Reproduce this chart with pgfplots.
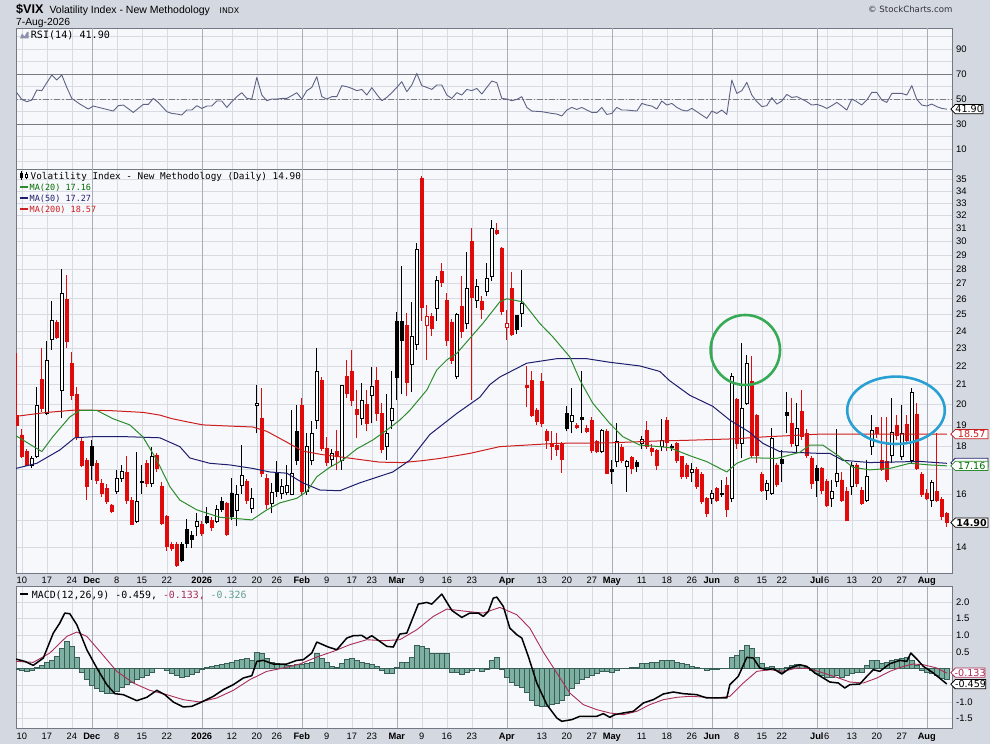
\documentclass[border=0pt]{standalone}
\usepackage{fontspec}
\setmainfont{Liberation Sans}
\newfontfamily\dvs{DejaVu Sans}
\newfontfamily\dvsm{DejaVu Sans Mono}
\usepackage{pgfplots}
\usepackage{pgfplotstable}
\pgfplotsset{compat=1.18}

\definecolor{outerbg}{RGB}{212,216,224}
\definecolor{panelbg}{RGB}{247,248,251}
\definecolor{gridc}{RGB}{216,219,226}
\definecolor{monthc}{RGB}{168,173,183}
\definecolor{axisc}{RGB}{115,120,130}
\definecolor{candlered}{RGB}{225,10,10}
\definecolor{ma20}{RGB}{45,140,45}
\definecolor{ma50}{RGB}{30,30,110}
\definecolor{ma200}{RGB}{205,30,30}
\definecolor{rsic}{RGB}{92,98,132}
\definecolor{sigc}{RGB}{170,45,85}
\definecolor{histf}{RGB}{125,176,160}
\definecolor{histd}{RGB}{55,95,85}
\definecolor{histt}{RGB}{95,160,145}
\definecolor{ovgreen}{RGB}{55,170,85}
\definecolor{ovblue}{RGB}{40,160,210}
\definecolor{lvlc}{RGB}{120,122,132}
\definecolor{ma20t}{RGB}{0,110,0}

\newcommand\lblfont{\fontsize{9.5}{11}\selectfont}
\newcommand\datefont{\fontsize{9.3}{11}\selectfont}

\pgfplotstableread{
i o h l c t
-1 19.47 22.70 18.95 18.99 0
0 18.53 18.80 17.50 17.56 0
1 17.78 17.90 17.15 17.20 0
2 17.20 17.60 17.05 17.48 1
3 17.56 20.90 17.48 19.97 1
4 21.28 22.98 19.60 19.80 0
5 19.55 23.40 19.47 22.29 1
6 23.51 25.83 22.89 24.66 1
7 24.50 24.66 23.50 23.63 0
8 20.72 28.00 19.31 26.36 1
9 25.93 27.60 23.00 23.37 0
10 22.15 22.80 20.20 20.46 0
11 20.50 20.90 18.30 18.45 0
12 18.22 18.40 17.10 17.20 0
13 17.41 17.50 15.76 16.30 0
14 18.00 18.30 16.57 17.20 2
15 17.27 17.40 16.40 16.57 0
16 16.43 16.60 15.90 16.04 0
17 16.23 16.40 15.60 15.70 0
18 15.57 15.60 15.25 15.32 0
19 16.10 17.00 16.00 16.64 1
20 16.64 17.20 16.50 16.92 1
21 16.88 17.60 15.60 15.76 0
22 15.76 15.90 14.80 14.82 0
23 14.94 17.78 14.90 15.72 1
24 16.45 17.20 16.00 16.50 1
25 17.27 17.40 16.30 16.44 0
26 16.44 18.00 16.30 17.57 1
27 17.60 17.70 16.90 17.06 0
28 16.30 16.50 14.80 14.87 0
29 15.13 15.20 13.90 14.03 0
30 14.10 14.20 13.90 13.98 0
31 14.10 14.20 13.35 13.40 0
32 14.10 14.20 13.50 13.58 2
33 14.65 15.05 13.98 14.16 2
34 14.42 14.60 14.00 14.30 2
35 14.76 15.25 14.40 14.94 1
36 14.82 14.95 14.40 14.49 0
37 15.13 15.50 14.85 14.90 2
38 14.97 15.10 14.60 14.73 0
39 14.94 15.57 14.90 15.38 1
40 15.70 15.90 15.30 15.40 2
41 15.63 15.70 14.40 14.46 0
42 16.04 16.64 15.00 15.13 2
43 15.36 16.36 14.76 15.97 1
44 16.33 18.07 16.00 16.75 1
45 16.50 16.60 15.60 15.76 0
46 15.42 16.23 15.25 15.82 1
47 19.92 20.98 18.60 20.05 1
48 19.30 20.80 16.70 16.85 0
49 16.64 16.80 15.40 15.59 0
50 15.63 16.43 15.25 16.07 1
51 16.88 17.38 15.90 16.10 2
52 16.04 16.60 15.80 16.30 1
53 16.07 17.20 15.95 16.33 1
54 16.00 19.72 15.95 16.85 1
55 18.71 19.96 17.20 17.41 2
56 19.92 20.30 15.97 16.10 0
57 16.10 18.60 15.97 18.00 1
58 17.41 19.20 17.20 18.60 1
59 19.23 22.98 18.80 21.70 1
60 21.20 21.40 17.80 17.93 0
61 17.93 18.45 17.15 17.30 0
62 17.44 17.90 17.15 17.70 1
63 17.80 18.76 17.00 17.57 0
64 17.41 21.00 17.00 20.97 1
65 21.42 22.33 20.30 20.56 0
66 21.68 22.89 19.90 20.21 0
67 19.75 20.72 18.40 19.52 0
68 19.31 21.08 19.00 20.21 1
69 20.00 20.72 18.70 19.07 0
70 20.46 21.96 19.07 20.93 1
71 21.20 21.96 19.20 19.55 0
72 19.55 20.05 17.70 17.88 0
73 18.00 20.50 17.41 18.60 1
74 19.23 21.70 18.80 19.80 1
75 24.56 25.18 20.21 21.40 2
76 24.56 28.19 20.50 23.47 2
77 24.35 25.07 20.40 21.13 0
78 22.06 25.80 20.60 23.70 1
79 23.20 29.85 22.90 29.40 1
80 35.06 35.30 24.60 25.45 0
81 24.36 25.60 22.30 24.86 3
82 24.86 25.10 23.70 24.16 0
83 25.40 27.50 24.60 27.24 1
84 27.80 28.40 26.80 27.10 0
85 25.87 26.36 23.10 23.43 0
86 24.52 24.70 22.10 22.33 0
87 21.42 25.10 21.30 25.00 1
88 25.50 27.50 23.60 23.96 0
89 24.44 29.20 24.10 26.69 1
90 30.00 30.98 20.20 26.10 0
91 25.87 27.30 25.40 26.84 1
92 25.80 26.20 24.70 25.30 0
93 26.47 28.40 26.20 27.36 1
94 27.50 31.63 27.20 31.00 1
95 30.80 31.40 30.50 30.60 0
96 29.50 29.60 25.00 25.20 0
97 24.20 25.29 23.47 24.46 3
98 26.69 27.80 23.70 23.80 0
99 24.92 25.00 23.80 24.10 2
100 25.05 27.90 24.26 25.70 1
101 20.98 22.00 19.85 20.87 0
102 21.20 21.70 19.40 19.47 0
103 19.72 19.80 19.00 19.15 0
104 21.16 21.60 18.90 19.07 0
105 18.71 18.80 17.90 18.30 0
106 18.10 18.70 17.40 18.00 0
107 18.07 18.60 17.60 17.88 0
108 18.15 18.20 16.85 17.44 0
109 19.55 19.90 18.70 18.84 2
110 19.15 20.80 18.60 19.47 1
111 18.99 19.10 18.80 18.88 0
112 19.36 21.70 18.60 19.26 2
113 18.84 19.00 18.60 18.68 0
114 19.20 19.40 17.70 17.85 0
115 18.22 18.30 17.70 17.78 0
116 17.78 18.80 17.70 18.76 1
117 18.68 18.80 16.80 16.85 0
118 16.99 17.41 16.40 16.92 2
119 17.34 19.07 17.10 18.22 1
120 17.96 18.10 17.30 17.41 0
121 17.13 17.40 16.10 17.34 1
122 17.52 17.60 16.80 17.06 0
123 17.30 17.40 16.90 17.13 2
124 18.14 18.50 17.90 18.33 1
125 18.76 19.20 17.90 18.00 0
126 17.93 18.10 17.60 17.78 0
127 17.85 17.90 17.00 17.20 0
128 18.00 19.30 17.80 18.30 1
129 19.20 19.40 17.80 18.20 0
130 18.03 18.10 17.80 17.97 2
131 18.15 18.20 17.30 17.41 0
132 17.55 17.60 16.60 16.71 0
133 17.20 17.30 16.60 16.71 0
134 16.89 17.30 16.50 16.99 1
135 16.99 17.10 16.20 16.30 0
136 16.78 16.90 15.60 15.70 0
137 15.82 15.90 15.10 15.25 0
138 15.82 16.16 15.60 16.04 1
139 16.23 16.30 15.70 15.74 0
140 15.97 16.57 15.90 16.04 1
141 16.33 16.70 15.10 15.38 0
142 15.82 21.60 15.70 21.43 1
143 20.23 20.30 17.90 18.15 0
144 18.15 23.30 17.48 19.80 1
145 20.05 22.60 19.97 22.15 1
146 21.16 22.55 17.50 17.63 0
147 19.47 19.50 17.30 17.63 0
148 16.81 16.90 16.10 16.16 0
149 16.16 16.57 15.76 16.43 1
150 16.04 18.84 15.97 18.38 1
151 17.20 17.30 16.30 16.37 0
152 17.44 17.85 16.50 17.27 2
153 19.60 20.60 18.60 19.47 2
154 19.07 20.30 18.00 18.15 0
155 18.07 20.05 17.70 18.84 1
156 19.63 20.70 18.30 18.45 0
157 18.60 18.80 17.50 17.63 0
158 17.48 17.60 16.20 16.44 0
159 17.06 17.20 15.90 16.57 2
160 17.06 17.10 16.00 16.16 0
161 16.50 16.60 15.50 15.57 0
162 15.82 16.57 15.50 16.10 1
163 16.50 18.80 16.30 16.85 1
164 16.57 16.90 15.70 15.76 0
165 16.10 16.30 14.95 15.00 0
166 16.30 17.34 15.97 17.16 1
167 17.20 17.30 16.30 16.44 0
168 16.16 16.30 15.57 15.63 0
169 15.76 17.41 15.70 16.71 1
170 18.00 19.47 17.63 18.73 1
171 18.87 18.90 18.40 18.60 0
172 17.41 19.40 16.95 17.02 0
173 17.34 19.40 16.50 16.60 0
174 17.63 20.30 17.27 18.64 1
175 18.96 19.47 18.30 18.50 0
176 17.55 19.96 17.41 18.60 1
177 19.02 19.47 18.10 18.30 0
178 17.41 20.80 17.30 20.58 1
179 19.50 20.05 17.00 17.06 0
180 16.78 16.90 15.90 15.97 0
181 16.04 16.20 15.76 15.82 0
182 15.76 16.57 15.50 16.46 1
183 16.10 18.60 15.70 15.76 0
184 15.79 15.90 15.00 15.13 0
185 15.25 15.30 14.75 14.90 0
}\candles

\pgfplotstableread{
i h
-1 -0.03
0 -0.05
1 -0.08
2 -0.06
3 0.03
4 0.10
5 0.18
6 0.25
7 0.38
8 0.60
9 0.82
10 0.68
11 0.35
12 -0.10
13 -0.33
14 -0.50
15 -0.60
16 -0.68
17 -0.74
18 -0.73
19 -0.67
20 -0.57
21 -0.47
22 -0.40
23 -0.33
24 -0.27
25 -0.20
26 -0.10
27 0.02
28 0.02
29 -0.05
30 -0.13
31 -0.20
32 -0.25
33 -0.24
34 -0.18
35 -0.10
36 -0.03
37 0.03
38 0.07
39 0.10
40 0.14
41 0.17
42 0.20
43 0.24
44 0.28
45 0.30
46 0.26
47 0.50
48 0.45
49 0.30
50 0.20
51 0.15
52 0.12
53 0.10
54 0.10
55 0.12
56 0.12
57 0.15
58 0.20
59 0.45
60 0.30
61 0.18
62 0.08
63 0.05
64 0.15
65 0.27
66 0.30
67 0.25
68 0.20
69 0.15
70 0.12
71 0.06
72 -0.05
73 -0.15
74 -0.13
75 0.05
76 0.20
77 0.20
78 0.35
79 0.70
80 0.68
81 0.60
82 0.45
83 0.47
84 0.47
85 0.45
86 -0.10
87 -0.10
88 -0.18
89 -0.10
90 -0.05
91 0.00
92 -0.08
93 -0.02
94 0.25
95 0.35
96 -0.03
97 -0.25
98 -0.40
99 -0.50
100 -0.55
101 -0.70
102 -0.95
103 -1.10
104 -1.12
105 -1.12
106 -1.08
107 -1.03
108 -0.95
109 -0.80
110 -0.60
111 -0.45
112 -0.33
113 -0.25
114 -0.20
115 -0.15
116 -0.08
117 -0.08
118 -0.12
119 -0.05
120 0.00
121 0.02
122 0.03
123 0.05
124 0.15
125 0.17
126 0.20
127 0.20
128 0.25
129 0.25
130 0.25
131 0.20
132 0.15
133 0.12
134 0.08
135 0.05
136 0.02
137 -0.05
138 -0.02
139 -0.02
140 0.00
141 0.00
142 0.35
143 0.40
144 0.55
145 0.70
146 0.60
147 0.35
148 0.15
149 0.05
150 0.08
151 -0.05
152 -0.10
153 0.05
154 0.10
155 0.12
156 0.10
157 0.05
158 -0.05
159 -0.15
160 -0.20
161 -0.25
162 -0.25
163 -0.20
164 -0.25
165 -0.20
166 -0.15
167 -0.10
168 -0.10
169 0.10
170 0.25
171 0.25
172 0.15
173 0.20
174 0.25
175 0.27
176 0.30
177 0.35
178 0.25
179 0.10
180 -0.05
181 -0.12
182 -0.15
183 -0.20
184 -0.30
185 -0.33
}\histo

\pgfplotsset{
  vixaxis/.style={
    scale only axis, width=936.7pt,
    xmin=-1.16, xmax=186.18,
    axis background/.style={fill=panelbg},
    axis line style={draw=axisc, line width=0.6pt},
    xtick={0,5,10,14,19,24,29,36,42,47,51,56,61,66,70,75,80,85,90,97,104,109,114,118,124,129,134,138,143,148,152,159,161,166,171,176,181},
    xmajorgrids, ymajorgrids,
    major grid style={draw=gridc, line width=0.5pt},
    extra x ticks={14,36,56,75,97,118,138,159,181},
    extra x tick labels={},
    extra x tick style={grid=major, major grid style={draw=monthc, line width=0.6pt}},
    major tick length=0pt, minor tick length=0pt,
    ytick pos=right, yticklabel pos=right,
    yticklabel style={font=\lblfont, inner sep=0pt, xshift=3.3pt, anchor=west},
    xticklabel style={font=\datefont, inner sep=0pt},
    clip=true,
  },
  datelabels/.style={
    xticklabels={10,17,24,\textbf{Dec},8,15,22,\textbf{2026},12,20,26,\textbf{Feb},9,17,23,\textbf{Mar},9,16,23,\textbf{Apr},13,20,27,\textbf{May},11,18,26,\textbf{Jun},8,15,22,\textbf{Jul},6,13,20,27,\textbf{Aug}}
  },
}

\newcommand\valboxshape[3]{%
  \filldraw[fill=white, draw=#3, line width=0.8pt, line join=miter] (950.8,#1) -- (955.3,#1+4.6) -- (#2,#1+4.6) -- (#2,#1-4.6) -- (955.3,#1-4.6) -- cycle;%
}
\newcommand\valbox[5]{%
  \valboxshape{#1}{#2}{#3}%
  \node[inner sep=0pt, text=#4, font=\dvs\fontsize{9.6}{11}\selectfont] at ({(955.3+#2)/2},#1) {#5};%
}

\begin{document}
\begin{tikzpicture}[x=1pt,y=1pt]
\path[use as bounding box] (0,0) rectangle (990,744);
\fill[outerbg] (0,0) rectangle (990,744);

% ---------------- RSI panel ----------------
\begin{axis}[vixaxis, at={(16pt,715.7pt)}, anchor=north west, height=141pt,
  ymin=-6.2, ymax=106.6,
  ytick={10,30,50,70,90}, yticklabels={10,30,50,70,90},
  minor ytick={0,20,40,60,80,100}, yminorgrids,
  minor grid style={draw=gridc, line width=0.5pt},
  xticklabels={}]
\addplot[lvlc, line width=0.8pt, forget plot] coordinates {(-5,70) (200,70)};
\addplot[lvlc, line width=0.8pt, forget plot] coordinates {(-5,30) (200,30)};
\addplot[lvlc, line width=0.7pt, dash pattern=on 6pt off 2pt on 1.5pt off 2pt, forget plot] coordinates {(-5,50) (200,50)};
\addplot[rsic, line width=0.9pt, line join=round] coordinates {
(-1,55.1) (0,49.7) (1,47.9) (2,49.2) (3,57.2) (4,56.7) (5,63.1) (6,69.2) (7,65.2) (8,69.2) (9,59.3) (10,50.5) (11.6,46) (13.3,42) (14.3,44.4) (15.6,43.1) (18.3,40.4) (19.3,44.7) (20.3,45.2) (22.3,39.3) (24.3,45.7) (25.3,45.7) (26.3,50.5) (27.3,47.3) (29,39.9) (30,38.5) (31,38.0) (32,37.2) (33,41.2) (34,41.2) (35,44.7) (36,42.5) (37,44.4) (38,44.4) (39,48.4) (40,48.4) (41,43.3) (42,47.9) (43,51.9) (44,55.1) (45,50.5) (46,50.0) (47,67.3) (48,53.2) (49,48.7) (50,50) (51,50) (52,50.5) (53,50.5) (54,52.7) (55,55.1) (56,50) (57,56.7) (58,59.3) (59,67.9) (60,51.9) (61,50) (62,51.9) (63,51.9) (64,60.7) (65,59.9) (66,58.5) (67,56.7) (68,57.7) (69,53.2) (70,59.1) (71,53.7) (72,48.7) (73,51.3) (74,55.1) (75,59.3) (76,63.9) (77,55.9) (78,61.2) (79,70.5) (80,60.7) (81,59.3) (82,57.7) (83,61.2) (84,61.2) (85,53.2) (86,50.5) (87,55.1) (88,53.2) (89,57.7) (90,56.7) (91,58.5) (92,54) (93,59.3) (94,64.4) (95,63.1) (96,50.5) (97,50) (98,48.7) (99,49.7) (100,51.9) (101,43.3) (102,40.4) (104,39.9) (106,38.5) (107,38) (108,36.4) (109,41.2) (110,43.3) (111,41.7) (112,43.3) (113,41.2) (114,39.3) (115,39.3) (116,43.3) (117,37.7) (118,38.5) (119,43.3) (120,41.2) (121,41.2) (123,40.4) (124,46.5) (125,45.2) (126,44.4) (127,42) (128,48.4) (129,45.2) (130,46.5) (131,43.3) (132,41.2) (133,40.4) (134,42.5) (135,39.9) (136,37.2) (137,34.5) (138,40.4) (139,38.5) (140,41.2) (141,37.7) (142,65.2) (143,54.5) (144,56.7) (145,63.3) (146,53.2) (147,47.9) (148,43.9) (149,44.7) (150,51.1) (151,46) (152,48.4) (153,53.7) (154,51.3) (155,51.9) (156,50) (157,47.9) (158,45.2) (159,45.7) (160,44.4) (161,42.5) (162,44.7) (163,47.3) (164,44.4) (165,41.2) (166,50) (167,47.9) (168,45.2) (169,49.2) (170,55.3) (171,55.3) (172,49.2) (173,47.3) (174,54.5) (175,54.5) (176,54.5) (177,53.2) (178,60.7) (179,49.7) (180,45.2) (181,44.4) (182,46) (183,43.9) (184,42.5) (185,41.9)};
\end{axis}

% ---------------- Price panel ----------------
\begin{axis}[vixaxis, at={(16pt,574.7pt)}, anchor=north west, height=404pt,
  ymode=log, ymin=13.136, ymax=35.88,
  ytick={14,15,16,17,18,19,20,21,22,23,24,25,26,27,28,29,30,31,32,33,34,35},
  yticklabels={14,,16,,18,19,20,21,22,23,24,25,26,27,28,29,30,31,32,33,34,35},
  datelabels,
  xticklabel style={anchor=base, yshift=-10.7pt}]
\pgfplotsinvokeforeach{0,...,186}{%
  \pgfplotstablegetelem{#1}{i}\of\candles \let\vxi\pgfplotsretval
  \pgfplotstablegetelem{#1}{o}\of\candles \let\vxo\pgfplotsretval
  \pgfplotstablegetelem{#1}{h}\of\candles \let\vxh\pgfplotsretval
  \pgfplotstablegetelem{#1}{l}\of\candles \let\vxl\pgfplotsretval
  \pgfplotstablegetelem{#1}{c}\of\candles \let\vxc\pgfplotsretval
  \pgfplotstablegetelem{#1}{t}\of\candles \let\vxt\pgfplotsretval
  \pgfmathsetmacro\vxa{\vxi-0.33}%
  \pgfmathsetmacro\vxb{\vxi+0.33}%
  \edef\vxwc{\ifcase\vxt\space candlered\or black\or black\or candlered\fi}%
  \edef\vxfc{\ifcase\vxt\space candlered\or white\or black\or white\fi}%
  \edef\vxdoit{%
    \noexpand\addplot[draw=\vxwc, line width=0.9pt, forget plot] coordinates {(\vxi,\vxl) (\vxi,\vxh)};
    \noexpand\addplot[draw=\vxwc, fill=\vxfc, line width=0.8pt, forget plot] coordinates {(\vxa,\vxo) (\vxb,\vxo) (\vxb,\vxc) (\vxa,\vxc) (\vxa,\vxo)};
  }\vxdoit
}
\addplot[ma200, line width=1pt, line join=round] coordinates {
(-1.2,19.41) (5,19.6) (11,19.72) (17.6,19.69) (24.3,19.6) (27.6,19.47) (30,19.3) (33,19.15) (36.2,19.0) (41,18.95) (46.2,18.9) (49,18.7) (51,18.45) (53,18.2) (56.2,17.8) (60,17.65) (63.6,17.55) (67,17.45) (71.6,17.32) (76.2,17.3) (80,17.38) (83.6,17.48) (89.6,17.7) (95.6,18.0) (100.2,18.06) (107,18.15) (117.6,18.17) (127.6,18.26) (132.2,18.28) (142.2,18.35) (149,18.45) (153.6,18.5) (159.6,18.57) (170,18.57) (185,18.57)};
\addplot[ma50, line width=1pt, line join=round] coordinates {
(-1.2,17.05) (3,17.27) (7.6,17.85) (10.6,18.4) (14.2,18.45) (21,18.45) (27.6,18.4) (29.6,18.2) (31.6,18.0) (33.6,17.5) (37.6,17.27) (41.6,17.2) (46.2,17.05) (49.6,16.9) (53,16.85) (56.2,16.45) (59.6,16.16) (63.6,16.13) (67.6,16.45) (74.2,16.9) (77.6,17.4) (81.6,18.55) (87,19.55) (91.6,20.35) (93.6,21.0) (95.6,21.4) (101,22.15) (107,22.4) (113,22.4) (117.6,22.2) (123.6,22.0) (125.6,21.85) (127.6,21.7) (129.6,21.2) (133.6,20.45) (138.2,19.9) (141.6,19.23) (145.6,18.65) (148.2,18.15) (151.6,17.78) (154.2,17.75) (159.6,17.7) (161.6,17.7) (164.2,17.4) (169.6,17.3) (179.6,17.35) (185,17.27)};
\addplot[ma20, line width=1pt, line join=round] coordinates {
(-1.2,18.5) (4,17.78) (6.2,18.45) (9.6,19.38) (11.6,19.7) (15,19.7) (18.2,19.3) (21.6,19.0) (24.2,18.45) (27,17.41) (29.6,16.3) (31.6,15.76) (35,15.38) (39.6,15.1) (43,15.05) (46,15.0) (49,15.38) (51.6,15.65) (55,15.83) (57,16.1) (59,16.7) (61.6,17.1) (64.2,17.41) (67,17.9) (70.2,18.3) (73,18.76) (75.6,19.23) (77.6,19.7) (81,20.72) (83,21.78) (85,22.33) (87,22.7) (89.6,23.56) (92.2,24.45) (95.6,25.8) (97,26.0) (100.2,25.8) (103.6,24.45) (106.2,23.65) (109.6,22.5) (111.6,21.25) (114.2,20.05) (117.6,19.07) (120.2,18.45) (123.6,18.07) (127.6,18.0) (129.6,17.95) (133.6,17.6) (137,17.34) (141,16.9) (143,17.27) (145.6,17.5) (147.6,17.5) (151,17.48) (155.6,17.75) (157.6,18.07) (160.2,18.07) (163.6,17.55) (166.2,17.1) (169.6,16.99) (173.6,17.05) (177.6,17.27) (181.6,17.2) (185,17.16)};
\end{axis}

% ---------------- MACD panel ----------------
\begin{axis}[vixaxis, at={(16pt,157.3pt)}, anchor=north west, height=141.6pt,
  ymin=-1.79, ymax=2.462,
  ytick={-1.5,-1,-0.5,0,0.5,1,1.5,2},
  yticklabels={-1.5,-1.0,,,0.5,1.0,1.5,2.0},
  datelabels,
  xticklabel style={anchor=base, yshift=-11pt}]
\addplot[ybar, bar width=1, bar shift=0pt, fill=histf, draw=histd, line width=0.5pt, forget plot] table[x=i, y=h] {\histo};
\addplot[sigc, line width=0.9pt, line join=round] coordinates {
(-1.2,0.22) (2.3,0.19) (5.6,0.47) (9,0.97) (11,1.1) (13,0.97) (15.6,0.52) (19,-0.08) (22.3,-0.43) (25.6,-0.65) (29,-0.78) (32.3,-0.93) (35.6,-1.0) (39,-0.88) (42.3,-0.65) (45.6,-0.33) (49,-0.08) (52.3,0.02) (55.6,0.14) (59,0.35) (62.3,0.52) (65.6,0.72) (69,0.87) (72.3,0.84) (75.6,0.87) (79,1.17) (82.3,1.57) (85,1.79) (89,1.72) (92.3,1.67) (95.6,1.84) (99,1.62) (101.6,1.22) (104.3,0.5) (107,-0.13) (109.6,-0.73) (112.3,-1.08) (115,-1.23) (117.6,-1.33) (120.3,-1.38) (123,-1.28) (125.6,-1.08) (128.3,-0.93) (131,-0.86) (133.6,-0.83) (136.3,-0.85) (139,-0.88) (141.6,-0.83) (144.3,-0.43) (147,-0.08) (149.6,-0.03) (152.3,-0.08) (155,0.02) (157.6,0.0) (160.3,-0.13) (163,-0.26) (165.6,-0.4) (168.3,-0.43) (171,-0.28) (173.6,-0.08) (176.3,0.07) (178.3,0.14) (180.3,0.12) (183,0.02) (185,-0.133)};
\addplot[black, line width=1.5pt, line join=round] coordinates {
(-1.2,0.29) (0.6,0.22) (2.3,0.10) (4.3,0.32) (6.3,1.07) (7.6,1.37) (8.6,1.67) (9.6,1.65) (11,1.32) (13,0.57) (15,0.02) (17,-0.48) (18.6,-0.75) (20.3,-0.78) (23,-0.96) (25,-0.86) (27,-0.65) (28.6,-0.78) (30.3,-1.0) (32.3,-1.15) (34,-1.13) (36,-1.0) (38.3,-0.83) (40.3,-0.63) (42.3,-0.48) (44.3,-0.28) (46,-0.21) (47,0.22) (48.3,0.25) (50.3,0.14) (53,0.14) (55,0.25) (56.3,0.27) (58,0.47) (59,0.8) (61.3,0.65) (63,0.57) (65,0.92) (66.3,0.99) (68,1.0) (69,0.9) (70,0.99) (71.6,0.82) (73,0.67) (74.3,0.65) (75.6,1.04) (77,1.07) (79.3,1.94) (81,1.99) (82,1.94) (84,2.24) (86,1.75) (88,1.54) (89.6,1.67) (91.3,1.67) (92.3,1.57) (93.3,1.72) (94.3,2.12) (95,2.15) (96.3,1.87) (97.6,1.22) (99,1.02) (100,0.92) (101.3,0.37) (103,-0.43) (105,-1.08) (107,-1.48) (108,-1.58) (110,-1.53) (111.6,-1.43) (113.6,-1.43) (115,-1.43) (116.3,-1.35) (117.6,-1.46) (118.6,-1.38) (120.3,-1.33) (122.3,-1.28) (124.3,-1.03) (126.3,-0.93) (128.3,-0.76) (130.3,-0.7) (132.3,-0.75) (135,-0.78) (137,-0.88) (139,-0.88) (141,-0.88) (141.6,-0.48) (143.3,-0.23) (145,0.34) (146.3,0.32) (147.6,0.02) (149,-0.03) (150.3,0.0) (152,-0.16) (153.6,0.02) (155.6,0.12) (157,0.07) (158.6,-0.13) (160.3,-0.28) (161.6,-0.4) (163.3,-0.43) (164.6,-0.58) (165.6,-0.48) (167.6,-0.46) (169,-0.23) (170.3,-0.03) (171.6,-0.08) (173.6,0.15) (175.6,0.25) (177,0.22) (177.8,0.47) (179,0.29) (180.3,0.07) (182.3,-0.13) (185,-0.459)};
\end{axis}

% ---------------- annotation ellipses ----------------
\draw[ovgreen, line width=2.6pt] (745.3,394) ellipse [x radius=34.7, y radius=35];
\draw[ovblue, line width=2.6pt] (896,333.7) ellipse [x radius=48.8, y radius=33.7];

% ---------------- header texts ----------------
\node[anchor=base west, inner sep=0pt, font=\fontsize{12.6}{14}\selectfont\bfseries] at (16,730) {\$VIX};
\node[anchor=base west, inner sep=0pt, font=\fontsize{10.5}{12}\selectfont] at (49.3,730) {Volatility Index - New Methodology};
\node[anchor=base west, inner sep=0pt, font=\dvs\fontsize{7.8}{9}\selectfont] at (219.5,730) {INDX};
\node[anchor=base west, inner sep=0pt, font=\fontsize{10.3}{12}\selectfont] at (16,718) {7-Aug-2026};
\node[anchor=base east, inner sep=0pt, font=\dvs\fontsize{8.6}{10}\selectfont, text={rgb,255:red,50;green,50;blue,55}] at (952.7,731.3) {© StockCharts.com};

% ---------------- panel legends ----------------
\fill[rsic!70] (20,705.5) -- (22,710.5) -- (24.5,707.5) -- (27,712) -- (28.5,712) -- (28.5,705.5) -- cycle;
\node[anchor=base west, inner sep=0pt, font=\dvsm\fontsize{10.1}{12}\selectfont] at (30.7,705) {RSI(14) 41.90};

\draw[black, line width=0.7pt] (21.5,564) -- (21.5,572.5) (26.5,565) -- (26.5,571.5);
\fill[black] (20.3,566) rectangle (22.7,570.5);
\filldraw[fill=white, draw=black, line width=0.5pt] (25.3,566.5) rectangle (27.7,570);
\node[anchor=base west, inner sep=0pt, font=\dvsm\fontsize{9.35}{11}\selectfont] at (30.5,564.2) {Volatility Index - New Methodology (Daily) 14.90};
\draw[ma20, line width=2pt] (20,556.7) -- (28,556.7);
\node[anchor=base west, inner sep=0pt, font=\dvsm\fontsize{8.5}{10}\selectfont, text=ma20t] at (29.5,553.6) {MA(20) 17.16};
\draw[ma50, line width=2pt] (20,545.7) -- (28,545.7);
\node[anchor=base west, inner sep=0pt, font=\dvsm\fontsize{8.5}{10}\selectfont, text=ma50] at (29.5,542.6) {MA(50) 17.27};
\draw[ma200, line width=2pt] (20,534.7) -- (28,534.7);
\node[anchor=base west, inner sep=0pt, font=\dvsm\fontsize{8.5}{10}\selectfont, text=ma200] at (29.5,531.6) {MA(200) 18.57};

\draw[black, line width=2pt] (20,150) -- (28.3,150);
\node[anchor=base west, inner sep=0pt, font=\dvsm\fontsize{9.9}{12}\selectfont] at (31.7,145.9) {MACD(12,26,9) -0.459, \textcolor{sigc}{-0.133,} \textcolor{histt}{-0.326}};

% ---------------- value boxes ----------------
\valbox{634.9}{983}{black}{black}{41.90}
\valbox{309.9}{988}{ma200}{ma200}{18.57}
\valboxshape{281.2}{988}{ma50}
\valbox{278.1}{988}{ma20}{ma20t}{17.16}
\valbox{221.4}{988}{black}{black}{\bfseries 14.90}
\valbox{71.3}{985}{sigc}{sigc}{-0.133}
\valbox{59.8}{985.7}{black}{black}{-0.459}
\end{tikzpicture}
\end{document}
